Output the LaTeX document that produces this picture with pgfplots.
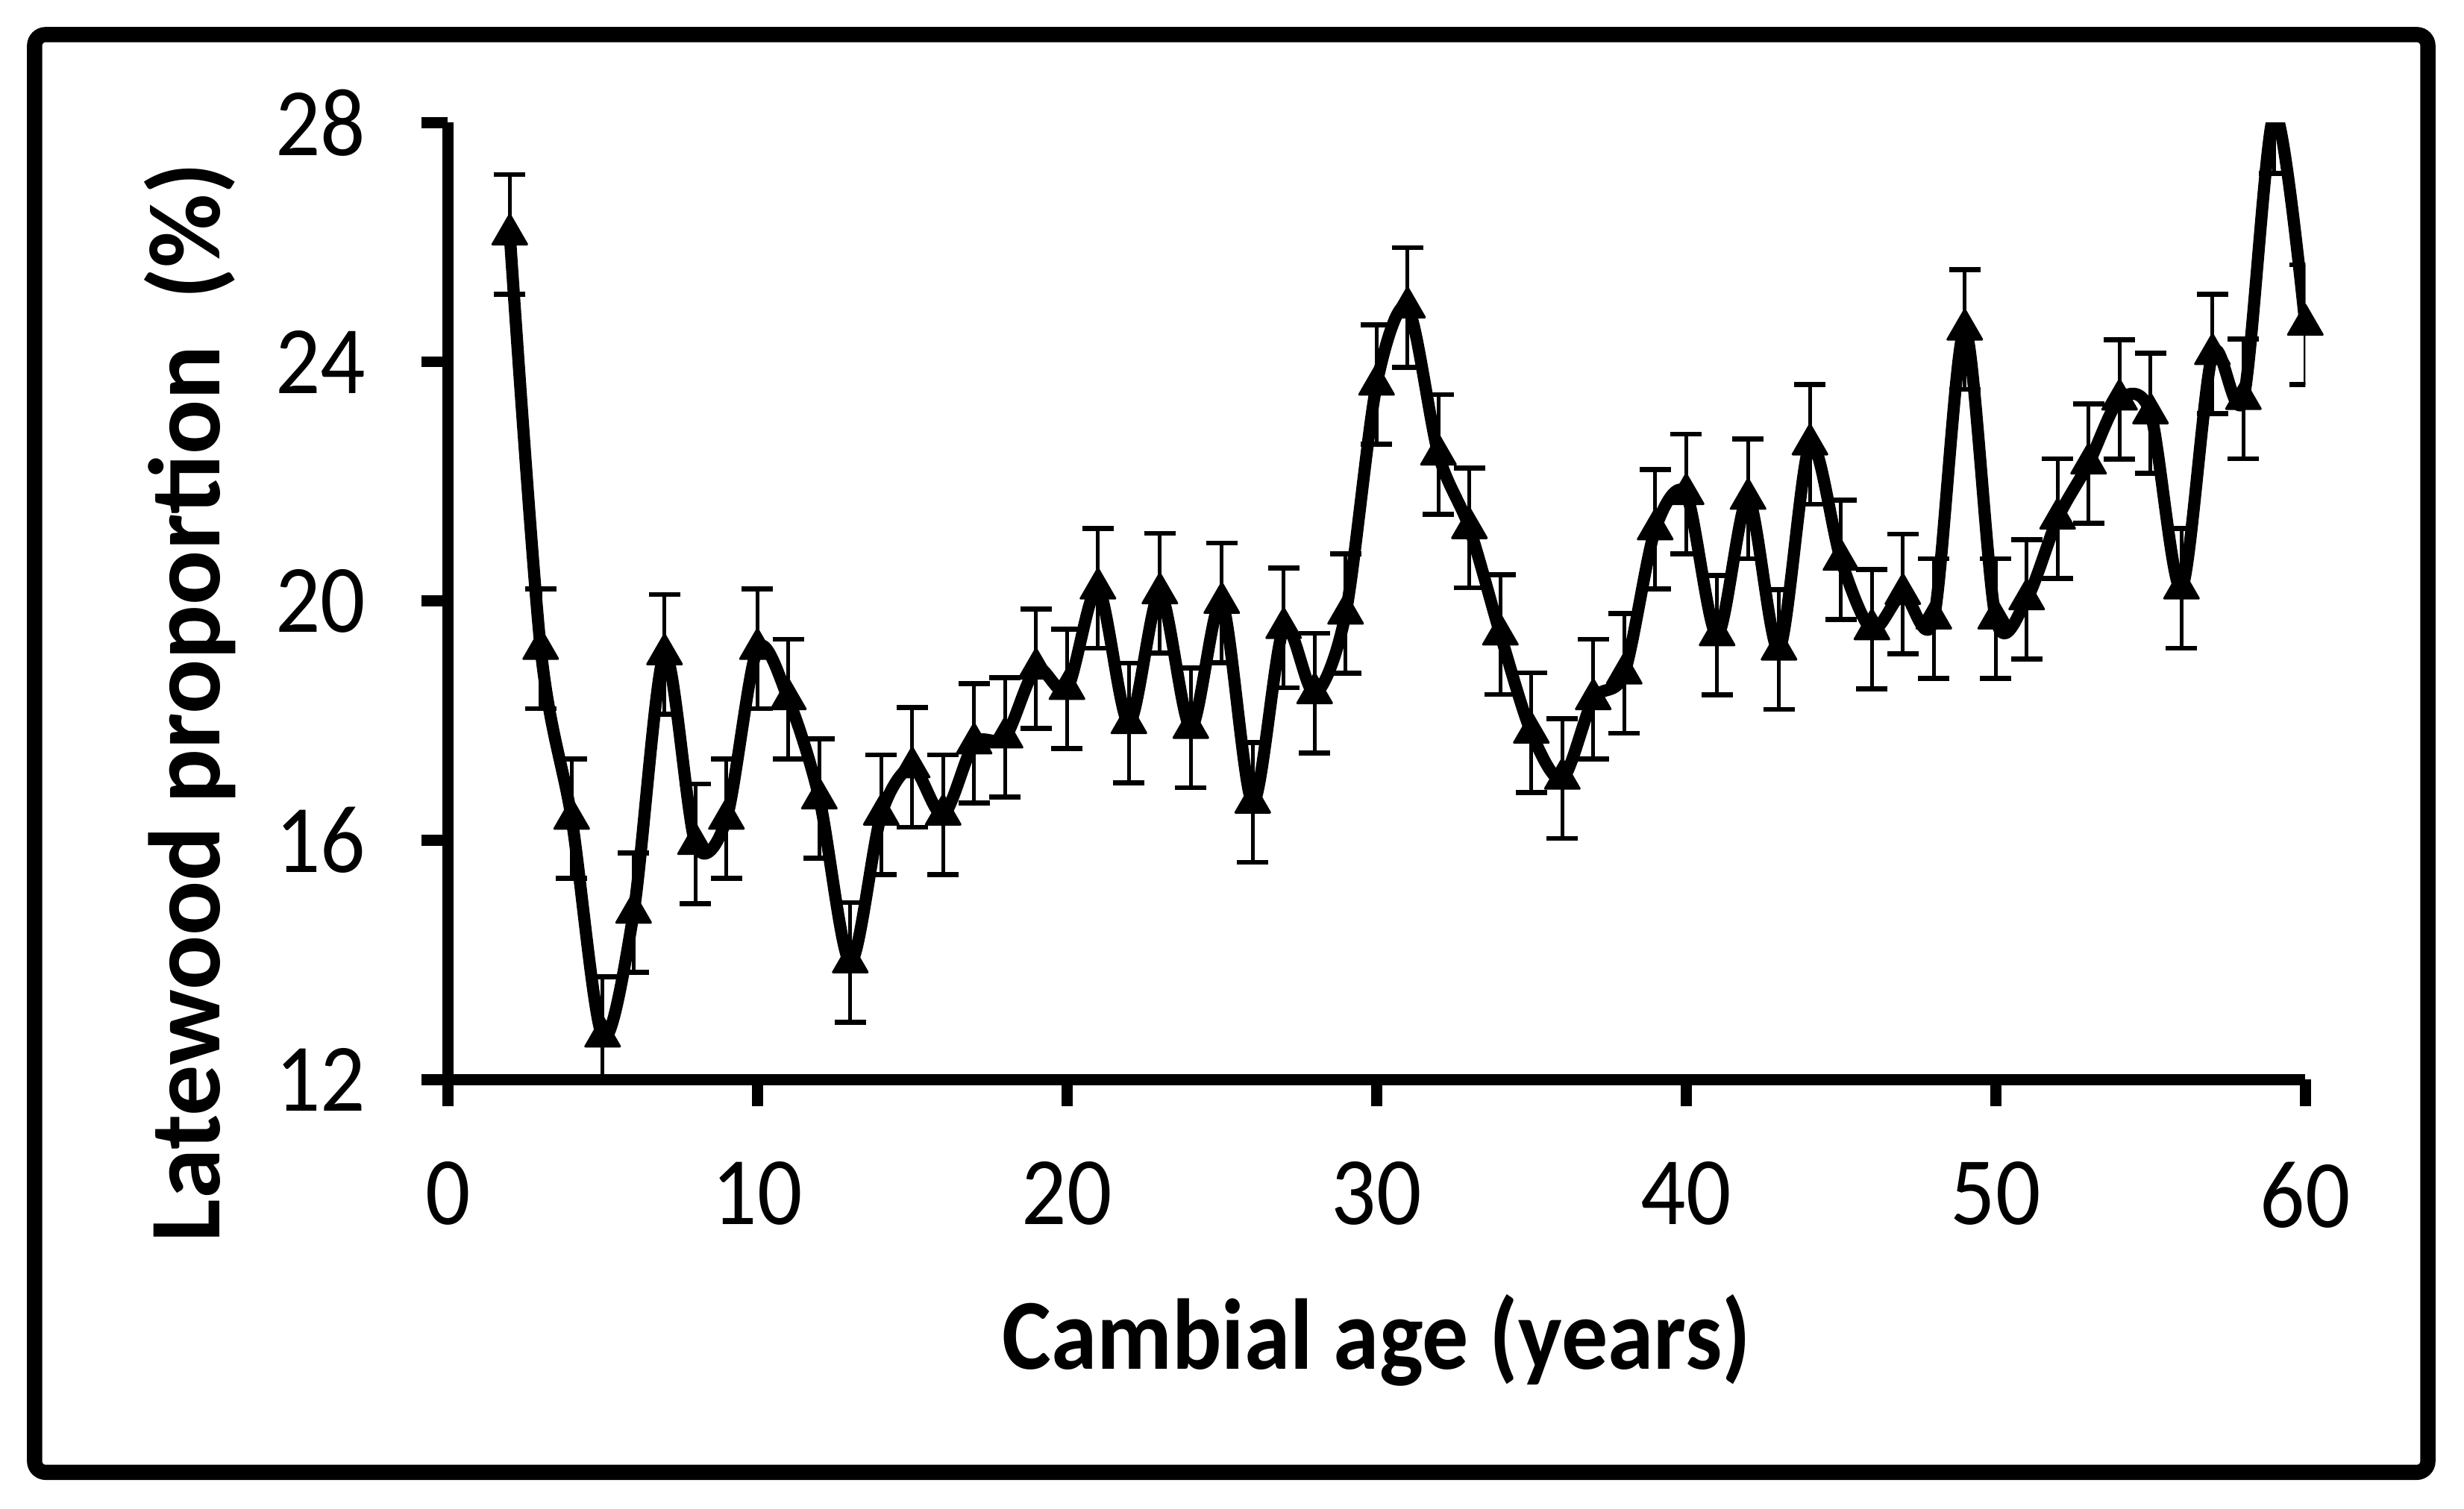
\documentclass[border=0pt]{standalone}
\usepackage{fontspec}
\setmainfont[FakeStretch=0.92]{Carlito}
\newfontfamily\ylabfont{Carlito}
\usepackage{pgfplots}
\usepackage{pgfplotstable}
\pgfplotsset{compat=1.18}

% cambial age, latewood proportion (%), error
\pgfplotstableread{
age lw se
2 26.13 1.0
3 19.20 1.0
4 16.36 1.0
5 12.72 1.0
6 14.79 1.0
7 19.11 1.0
8 15.94 1.0
9 16.36 1.0
10 19.20 1.0
11 18.36 1.0
12 16.70 1.0
13 13.96 1.0
14 16.43 1.0
15 17.22 1.0
16 16.43 1.0
17 17.62 1.0
18 17.72 1.0
19 18.87 1.0
20 18.53 1.0
21 20.21 1.0
22 17.96 1.0
23 20.13 1.0
24 17.88 1.0
25 19.97 1.0
26 16.63 1.0
27 19.55 1.0
28 18.46 1.0
29 19.79 1.0
30 23.62 1.0
31 24.91 1.0
32 22.45 1.0
33 21.22 1.0
34 19.44 1.0
35 17.80 1.0
36 17.03 1.0
37 18.36 1.0
38 18.79 1.0
39 21.20 1.0
40 21.79 1.0
41 19.43 1.0
42 21.71 1.0
43 19.19 1.0
44 22.62 1.0
45 20.69 1.0
46 19.53 1.0
47 20.12 1.0
48 19.71 1.0
49 24.54 1.0
50 19.71 1.0
51 20.03 1.0
52 21.38 1.0
53 22.30 1.0
54 23.37 1.0
55 23.14 1.0
56 20.21 1.0
57 24.13 1.0
58 23.38 1.0
59 28.15 1.0
60 24.62 1.0
}\lwdata

\begin{document}
\begin{tikzpicture}
\path (0,0) rectangle (15.68,9.60);
\draw[line width=2.75pt, rounded corners=2pt] (0.22,0.23) rectangle (15.45,9.38);
\begin{axis}[
    at={(2.85cm,2.73cm)}, anchor=south west,
    scale only axis,
    width=11.82cm, height=6.09cm,
    xmin=0, xmax=60, ymin=12, ymax=28,
    xtick={0,10,...,60},
    ytick={12,16,20,24,28},
    axis lines*=left,
    axis line style={line width=2pt},
    tick style={line width=2pt, black},
    tick align=outside,
    major tick length=0.17cm,
    /pgf/number format/assume math mode=true,
    tick label style={font=\fontsize{17.5}{20}\selectfont},
    xticklabel style={yshift=-0.23cm},
    yticklabel style={xshift=-0.23cm},
    xlabel={Cambial age (years)},
    xlabel style={at={(axis description cs:0.5,-0.2726)}, anchor=center,
        font=\bfseries\fontsize{18.2}{21}\selectfont},
    ylabel={Latewood proportion\ \ (\%)},
    ylabel style={at={(axis description cs:-0.1387,0.394)}, anchor=center,
        font=\ylabfont\bfseries\fontsize{18.4}{22}\selectfont},
]
\addplot[black, line width=2.2pt, smooth, tension=0.5, line join=round,
    mark=triangle*, mark size=3.6pt, mark options={solid, line width=0.4pt},
    error bars/.cd, y dir=both, y explicit,
    error bar style={line width=0.7pt},
    error mark options={rotate=90, mark size=2.85pt, line width=0.9pt}]
    table[x=age, y=lw, y error=se] {\lwdata};
\end{axis}
\end{tikzpicture}
\end{document}
